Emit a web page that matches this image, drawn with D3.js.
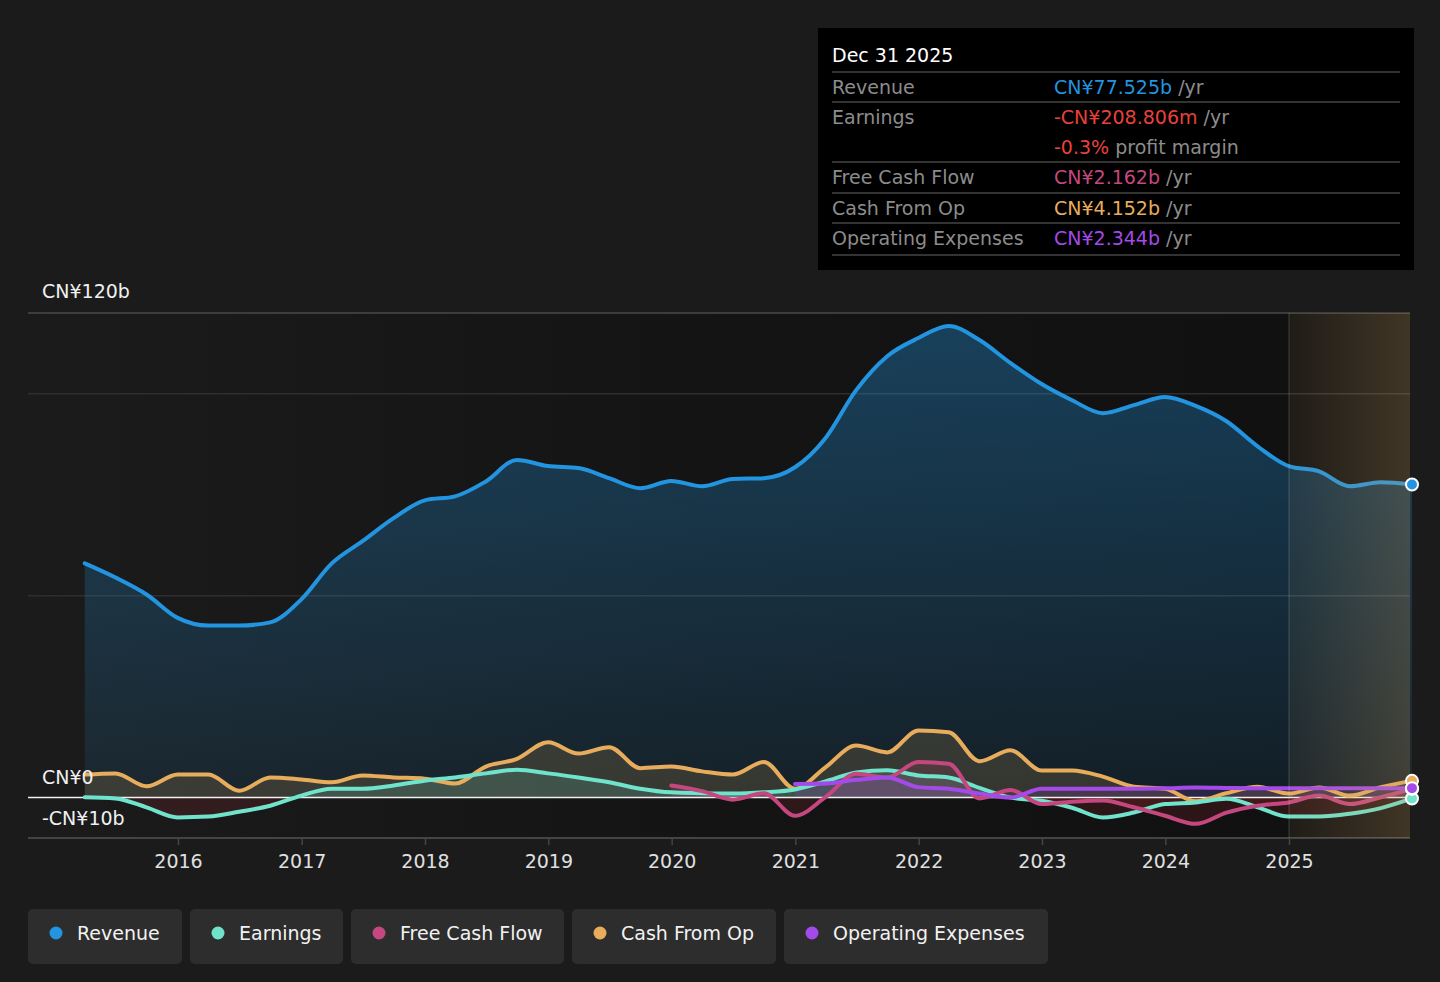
<!DOCTYPE html>
<html><head><meta charset="utf-8">
<script src="https://cdn.jsdelivr.net/npm/d3@7/dist/d3.min.js"></script>
<style>
html,body{margin:0;padding:0;background:#1b1b1b;}
svg{display:block;font-family:"DejaVu Sans",sans-serif;}
</style></head>
<body><svg id="c" width="1440" height="982"></svg>
<script>
// ---------- DATA (CN¥ billions, quarterly, trailing 12 months) ----------
const firstQuarter = "2015-03-31";
const revenue = [58.0,54.5,50.3,44.5, 42.6,42.6,43.4,49.1, 58.0,63.5,69.2,73.6, 74.6,78.3,83.6,82.1,
  81.6,79.1,76.6,78.4, 77.1,78.9,79.1,81.8, 89.0,100.9,109.3,113.8, 116.8,113.3,107.6,102.4,
  98.4,95.2,97.2,99.2, 97.0,93.2,87.0,82.1, 80.8,77.1,78.1,77.525];
const earnings = [0.1,-0.2,-2.4,-4.9, -4.7,-3.5,-2.0,0.5, 2.2,2.2,3.0,4.2, 5.0,6.0,6.9,6.0,
  5.0,3.8,2.2,1.3, 1.1,1.0,1.3,2.0, 4.0,6.2,6.8,5.5, 5.0,2.4,0.0,-0.8,
  -2.5,-4.9,-3.7,-1.6, -1.2,-0.3,-2.4,-4.7, -4.7,-4.0,-2.6,-0.209];
const cashFromOp = [5.7,6.0,2.8,5.7, 5.7,1.7,5.0,4.5, 3.8,5.5,5.0,4.7, 3.5,7.7,9.6,13.7,
  10.9,12.5,7.3,7.7, 6.5,5.7,8.8,2.2, 7.5,12.9,11.2,16.6, 16.2,9.0,11.7,6.7,
  6.7,5.2,2.7,2.2, -0.9,1.1,2.7,1.0, 2.5,0.5,2.6,4.152];
// free cash flow starts at quarter index 19 (Dec 2019)
const fcfStart = 19;
const freeCashFlow = [3.0, 1.6,-0.5,1.1,-4.5, 0.1,5.9,5.0,8.8, 8.4,-0.2,1.9,-1.6,
  -1.0,-0.7,-2.4,-4.5, -6.5,-3.7,-2.0,-1.2, 0.5,-1.6,0.1,2.162];
// operating expenses start at quarter index 23 (Dec 2020)
const opexStart = 23;
const operatingExpenses = [3.4, 3.5,4.4,5.0,2.6, 2.2,1.0,0.0,2.2, 2.2,2.2,2.2,2.3,
  2.5,2.4,2.3,2.3, 2.3,2.3,2.3,2.344];
const yearTicks = [2016,2017,2018,2019,2020,2021,2022,2023,2024,2025];
const yLabels = [{v:120,t:"CN¥120b"},{v:0,t:"CN¥0"},{v:-10,t:"-CN¥10b"}];
const gridValues = [50,100,120];
const seriesNames = ["Revenue","Earnings","Free Cash Flow","Cash From Op","Operating Expenses"];
const seriesColors = ["#2394df","#6fe3cc","#c4487f","#e8ad5c","#a44ae8"];
const tipTitle = "Dec 31 2025";
const tipRows = [
  {label:"Revenue", value:"CN¥77.525b", unit:" /yr", color:"#2394df"},
  {label:"Earnings", value:"-CN¥208.806m", unit:" /yr", color:"#e8413c"},
  {label:"", value:"-0.3%", unit:" profit margin", color:"#e8413c"},
  {label:"Free Cash Flow", value:"CN¥2.162b", unit:" /yr", color:"#c4487f"},
  {label:"Cash From Op", value:"CN¥4.152b", unit:" /yr", color:"#e8ad5c"},
  {label:"Operating Expenses", value:"CN¥2.344b", unit:" /yr", color:"#a44ae8"}
];

// ---------- BUILD ----------
const FS = 19;
const parse = d3.timeParse("%Y-%m-%d");
const q0 = parse(firstQuarter);
const quarterDate = i => d3.timeDay.offset(d3.timeMonth.offset(d3.timeDay.offset(q0,1), 3*i), -1);
const toSeries = (arr, start=0) => arr.map((v,i)=>({date:quarterDate(start+i), v}));

const svg = d3.select("#c");
const L = 28, R = 1410, T = 313, B = 838;
const x = d3.scaleTime().domain([new Date(2016,0,1), new Date(2025,0,1)]).range([178,1289]);
const y = d3.scaleLinear().domain([-10,120]).range([B,T]);
const y0 = y(0);

const defs = svg.append("defs");
const bgGrad = defs.append("linearGradient").attr("id","bgG").attr("x1","0").attr("x2","1").attr("y1","0").attr("y2","0");
bgGrad.append("stop").attr("offset","0").attr("stop-color","#1b1b1b");
bgGrad.append("stop").attr("offset","0.5").attr("stop-color","#141414");
bgGrad.append("stop").attr("offset","1").attr("stop-color","#101010");

const revGrad = defs.append("linearGradient").attr("id","revG").attr("gradientUnits","userSpaceOnUse")
  .attr("x1",0).attr("x2",0).attr("y1",y(120)).attr("y2",y0);
revGrad.append("stop").attr("offset","0").attr("stop-color","#2394df").attr("stop-opacity",0.36);
revGrad.append("stop").attr("offset","1").attr("stop-color","#2394df").attr("stop-opacity",0.1);

const fcGrad = defs.append("linearGradient").attr("id","fcG").attr("x1","0").attr("x2","1").attr("y1","0").attr("y2","0");
fcGrad.append("stop").attr("offset","0").attr("stop-color","#c8a064").attr("stop-opacity",0.08);
fcGrad.append("stop").attr("offset","1").attr("stop-color","#c8a064").attr("stop-opacity",0.26);

defs.append("clipPath").attr("id","clipPos").append("rect").attr("x",L).attr("y",T-20).attr("width",R-L+10).attr("height",y0-T+20);
defs.append("clipPath").attr("id","clipNeg").append("rect").attr("x",L).attr("y",y0).attr("width",R-L+10).attr("height",B-y0);

// plot background
svg.append("rect").attr("x",L).attr("y",T).attr("width",R-L).attr("height",B-T).attr("fill","url(#bgG)");

// grid
svg.append("g").selectAll("line").data(gridValues).join("line")
  .attr("x1",L).attr("x2",R).attr("y1",d=>y(d)).attr("y2",d=>y(d))
  .attr("stroke",d=>d===120?"#4a4a4a":"#2e2e2e").attr("stroke-width",1.5);

// bottom axis
const xAxis = d3.axisBottom(x).tickValues(yearTicks.map(yr=>new Date(yr,0,1))).tickFormat(d3.timeFormat("%Y")).tickSize(7).tickSizeOuter(0);
const ax = svg.append("g").attr("transform",`translate(0,${B})`).call(xAxis);
ax.select(".domain").remove();
ax.selectAll(".tick line").attr("stroke","#444").attr("stroke-width",1.5);
ax.selectAll(".tick text").attr("fill","#e0e0e0").attr("font-size",FS).attr("font-family","DejaVu Sans").attr("dy","0.35em").attr("y",23);
svg.append("line").attr("x1",L).attr("x2",R).attr("y1",B).attr("y2",B).attr("stroke","#444").attr("stroke-width",2);

const curve = d3.curveMonotoneX;
const areaGen = d3.area().x(d=>x(d.date)).y0(y0).y1(d=>y(d.v)).curve(curve);
const lineGen = d3.line().x(d=>x(d.date)).y(d=>y(d.v)).curve(curve);

const S = [
  toSeries(revenue),
  toSeries(earnings),
  toSeries(freeCashFlow, fcfStart),
  toSeries(cashFromOp),
  toSeries(operatingExpenses, opexStart)
];

// revenue area
svg.append("path").datum(S[0]).attr("d",areaGen).attr("fill","url(#revG)");
// other areas: positive in series colour, negative in red
[3,1,2,4].forEach(i=>{
  svg.append("path").datum(S[i]).attr("d",areaGen).attr("clip-path","url(#clipPos)")
    .attr("fill",seriesColors[i]).attr("fill-opacity",0.16);
  svg.append("path").datum(S[i]).attr("d",areaGen).attr("clip-path","url(#clipNeg)")
    .attr("fill","#d8303c").attr("fill-opacity",0.14);
});

// zero line
svg.append("line").attr("x1",L).attr("x2",R).attr("y1",y0).attr("y2",y0).attr("stroke","#f0f0f0").attr("stroke-width",1.5);

// lines
[0,3,1,2,4].forEach(i=>{
  svg.append("path").datum(S[i]).attr("d",lineGen).attr("fill","none")
    .attr("stroke",seriesColors[i]).attr("stroke-width",4).attr("stroke-linejoin","round").attr("stroke-linecap","round");
});

// forecast overlay
const fx = x(new Date(2025,0,1));
svg.append("rect").attr("x",fx).attr("y",T).attr("width",R-fx).attr("height",B-T).attr("fill","url(#fcG)");
svg.append("line").attr("x1",fx).attr("x2",fx).attr("y1",T).attr("y2",B).attr("stroke","#ffffff").attr("stroke-opacity",0.12).attr("stroke-width",1.5);

// end markers
[1,3,2,4,0].forEach(i=>{
  const d = S[i][S[i].length-1];
  svg.append("circle").attr("cx",x(d.date)).attr("cy",y(d.v)).attr("r",6)
    .attr("fill",seriesColors[i]).attr("stroke","#fff").attr("stroke-width",2);
});

// y labels
svg.append("g").selectAll("text").data(yLabels).join("text")
  .attr("x",42).attr("y",d=> d.v===120 ? y(d.v)-22 : y(d.v)-20)
  .attr("dy","0.35em").attr("fill","#f0f0f0").attr("font-size",FS).text(d=>d.t);

// tooltip
const tip = svg.append("g");
tip.append("rect").attr("x",818).attr("y",28).attr("width",596).attr("height",242).attr("fill","#000");
tip.append("text").attr("x",832).attr("y",55).attr("dy","0.35em").attr("fill","#fff").attr("font-size",FS).text(tipTitle);
const rowY = [87,117,147,177,208,238];
const sepY = [72,102,162,193,223,255];
tip.selectAll("line").data(sepY).join("line").attr("x1",832).attr("x2",1400).attr("y1",d=>d).attr("y2",d=>d).attr("stroke","#444").attr("stroke-width",1.5);
tipRows.forEach((r,i)=>{
  tip.append("text").attr("x",832).attr("y",rowY[i]).attr("dy","0.35em").attr("fill","#8c8c8c").attr("font-size",FS).text(r.label);
  const t = tip.append("text").attr("x",1054).attr("y",rowY[i]).attr("dy","0.35em").attr("font-size",FS);
  t.append("tspan").attr("fill",r.color).text(r.value);
  t.append("tspan").attr("fill","#8c8c8c").text(r.unit);
});

// legend
const legX = [28,190,351,572,784];
const legW = [154,153,213,204,264];
const leg = svg.append("g");
seriesNames.forEach((n,i)=>{
  const g = leg.append("g").attr("transform",`translate(${legX[i]},909)`);
  g.append("rect").attr("width",legW[i]).attr("height",55).attr("rx",5).attr("fill","#2d2d2d");
  g.append("circle").attr("cx",28).attr("cy",24).attr("r",6.5).attr("fill",seriesColors[i]);
  g.append("text").attr("x",49).attr("y",24).attr("dy","0.35em").attr("fill","#f2f2f2").attr("font-size",FS).text(n);
});
</script></body></html>
